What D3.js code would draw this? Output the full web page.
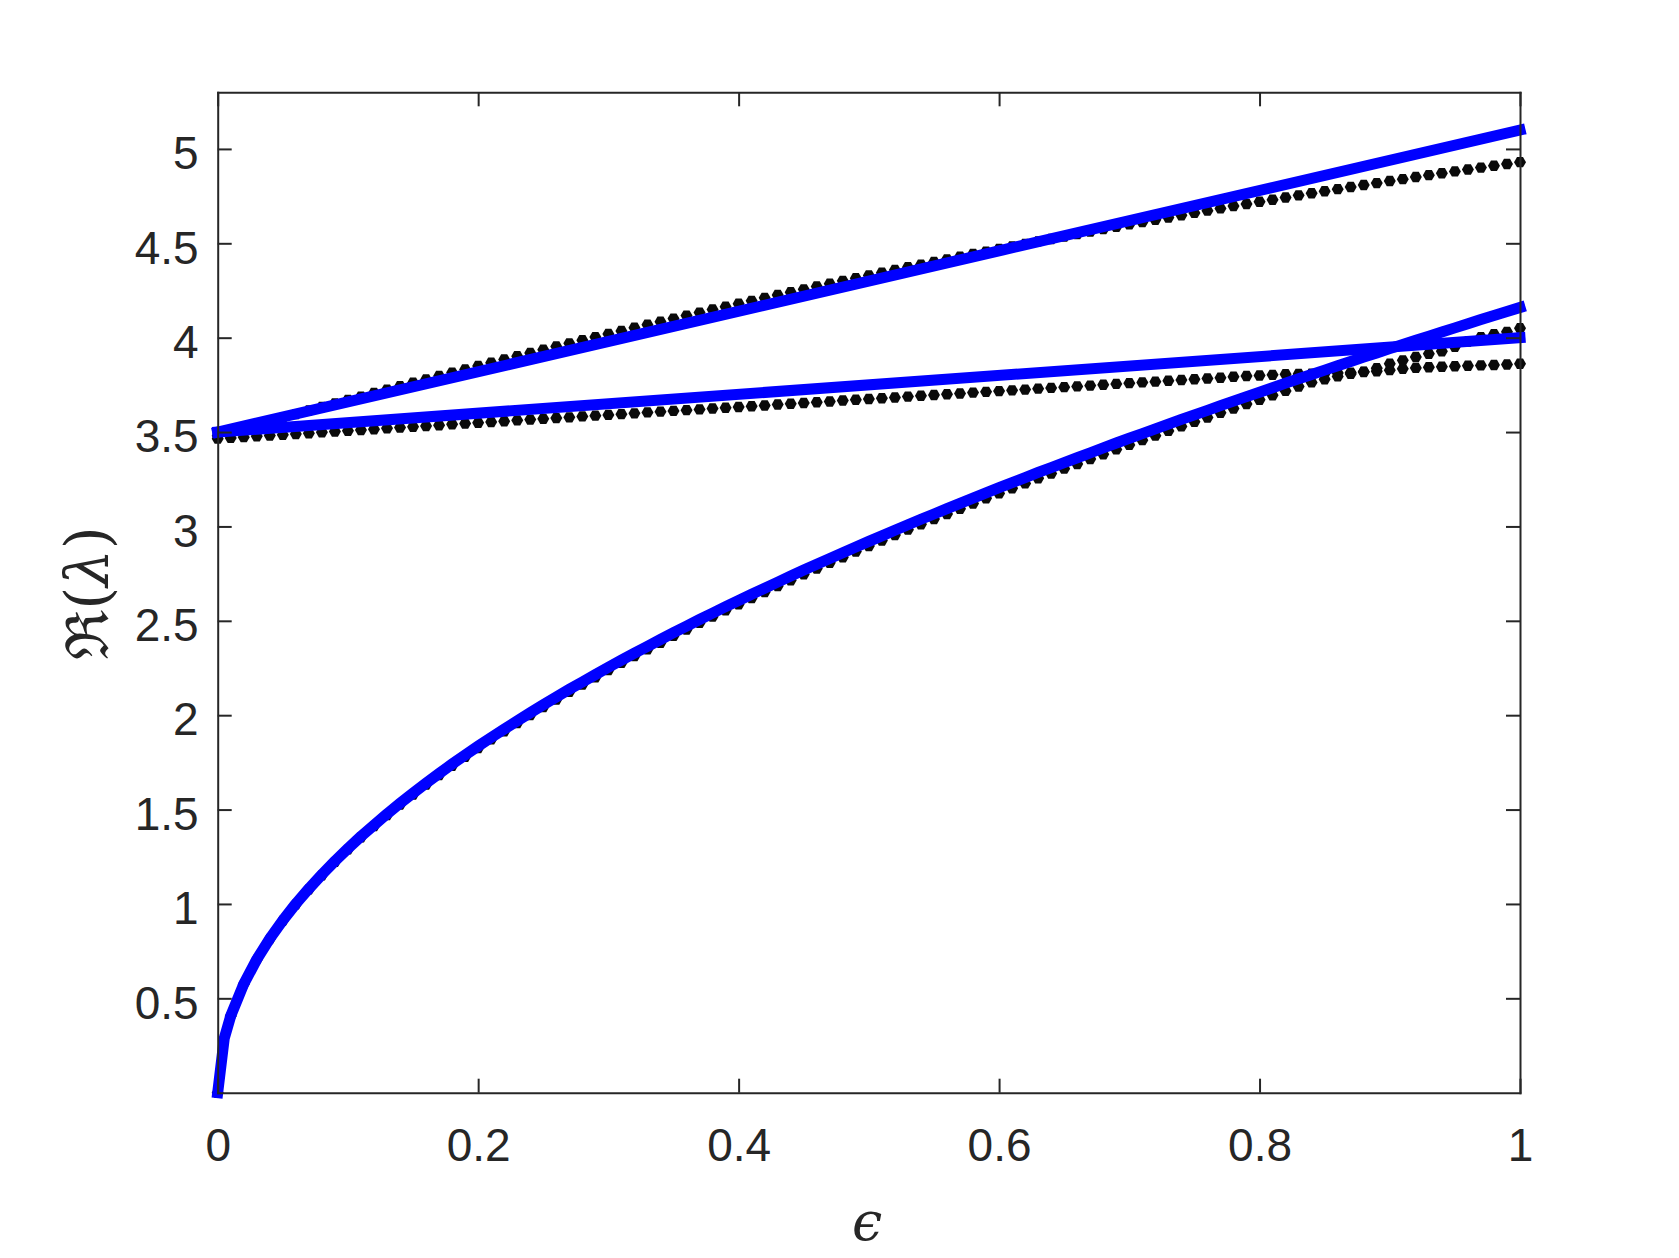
<!DOCTYPE html>
<meta charset="utf-8">
<html><head>
<title></title>
<script src="https://cdn.jsdelivr.net/npm/d3@7"></script>
<style>
body { margin: 0; background: #fff; }
.axis path, .axis line { stroke: #262626; stroke-width: 2px; }
.axis text { fill: #262626; font-family: "Liberation Sans", Arial, sans-serif; font-size: 46px; }
.lbl { fill: #262626; font-family: "DejaVu Serif", "Liberation Serif", serif; }
</style>
</head><body>
<script>

// epsilon grid of the computed eigenvalues (black dots)
var eps = [0,0.01,0.02,0.03,0.04,0.05,0.06,0.07,0.08,0.09,
  0.1,0.11,0.12,0.13,0.14,0.15,0.16,0.17,0.18,0.19,
  0.2,0.21,0.22,0.23,0.24,0.25,0.26,0.27,0.28,0.29,
  0.3,0.31,0.32,0.33,0.34,0.35,0.36,0.37,0.38,0.39,
  0.4,0.41,0.42,0.43,0.44,0.45,0.46,0.47,0.48,0.49,
  0.5,0.51,0.52,0.53,0.54,0.55,0.56,0.57,0.58,0.59,
  0.6,0.61,0.62,0.63,0.64,0.65,0.66,0.67,0.68,0.69,
  0.7,0.71,0.72,0.73,0.74,0.75,0.76,0.77,0.78,0.79,
  0.8,0.81,0.82,0.83,0.84,0.85,0.86,0.87,0.88,0.89,
  0.9,0.91,0.92,0.93,0.94,0.95,0.96,0.97,0.98,0.99,1];

// top branch of dots
var upperDots = [3.480,3.499,3.519,3.538,3.557,3.576,3.595,3.614,3.633,3.651,
  3.670,3.688,3.707,3.725,3.743,3.761,3.779,3.797,3.815,3.832,
  3.850,3.867,3.885,3.902,3.919,3.936,3.953,3.970,3.987,4.003,
  4.020,4.036,4.053,4.069,4.085,4.101,4.117,4.133,4.149,4.164,
  4.180,4.195,4.211,4.226,4.241,4.256,4.271,4.286,4.301,4.315,
  4.330,4.344,4.359,4.373,4.387,4.401,4.415,4.429,4.443,4.456,
  4.470,4.483,4.497,4.510,4.523,4.536,4.549,4.562,4.575,4.587,
  4.600,4.612,4.625,4.637,4.649,4.661,4.673,4.685,4.697,4.708,
  4.720,4.731,4.743,4.754,4.765,4.776,4.787,4.798,4.809,4.819,
  4.830,4.840,4.851,4.861,4.871,4.881,4.891,4.901,4.911,4.920,4.930];

// middle branch of dots
var middleDots = [3.465,3.469,3.473,3.478,3.482,3.486,3.490,3.494,3.499,3.503,
  3.507,3.511,3.515,3.520,3.524,3.528,3.532,3.536,3.541,3.545,
  3.549,3.553,3.557,3.562,3.566,3.570,3.574,3.578,3.583,3.587,
  3.591,3.595,3.599,3.604,3.608,3.612,3.616,3.620,3.625,3.629,
  3.633,3.637,3.641,3.646,3.650,3.654,3.658,3.662,3.667,3.671,
  3.675,3.679,3.683,3.688,3.692,3.696,3.700,3.704,3.709,3.713,
  3.717,3.721,3.725,3.730,3.734,3.738,3.742,3.746,3.751,3.755,
  3.759,3.763,3.767,3.772,3.776,3.780,3.784,3.788,3.793,3.797,
  3.800,3.803,3.806,3.808,3.809,3.810,3.813,3.815,3.818,3.822,
  3.828,3.835,3.840,3.843,3.846,3.849,3.851,3.853,3.855,3.858,3.862];

// lowest branch of dots (starts at zero)
var lowerDots = [0,0.406,0.575,0.705,0.814,0.911,0.998,1.078,1.152,1.223,
  1.289,1.353,1.412,1.471,1.526,1.580,1.632,1.683,1.732,1.780,
  1.826,1.872,1.915,1.959,2.001,2.043,2.083,2.124,2.162,2.201,
  2.239,2.277,2.313,2.349,2.384,2.420,2.454,2.489,2.522,2.556,
  2.588,2.621,2.652,2.684,2.715,2.747,2.777,2.807,2.837,2.867,
  2.896,2.925,2.954,2.983,3.011,3.039,3.066,3.094,3.121,3.149,
  3.175,3.202,3.228,3.255,3.280,3.306,3.331,3.357,3.382,3.408,
  3.432,3.457,3.481,3.506,3.530,3.554,3.577,3.602,3.625,3.649,
  3.671,3.695,3.718,3.741,3.763,3.780,3.795,3.808,3.820,3.838,
  3.862,3.880,3.898,3.915,3.928,3.952,3.980,4.003,4.018,4.031,4.050];

// blue curve (approximation of the lowest branch), extra sample at 0.005
var blueEps = [0,0.005,0.01,0.02,0.03,0.04,0.05,0.06,0.07,0.08,0.09,
  0.1,0.11,0.12,0.13,0.14,0.15,0.16,0.17,0.18,0.19,
  0.2,0.21,0.22,0.23,0.24,0.25,0.26,0.27,0.28,0.29,
  0.3,0.31,0.32,0.33,0.34,0.35,0.36,0.37,0.38,0.39,
  0.4,0.41,0.42,0.43,0.44,0.45,0.46,0.47,0.48,0.49,
  0.5,0.51,0.52,0.53,0.54,0.55,0.56,0.57,0.58,0.59,
  0.6,0.61,0.62,0.63,0.64,0.65,0.66,0.67,0.68,0.69,
  0.7,0.71,0.72,0.73,0.74,0.75,0.76,0.77,0.78,0.79,
  0.8,0.81,0.82,0.83,0.84,0.85,0.86,0.87,0.88,0.89,
  0.9,0.91,0.92,0.93,0.94,0.95,0.96,0.97,0.98,0.99,1];
var blueCurve = [0,0.287,0.407,0.576,0.706,0.816,0.913,1.001,1.081,1.156,1.227,
  1.294,1.358,1.418,1.477,1.533,1.587,1.640,1.691,1.741,1.789,
  1.836,1.882,1.926,1.970,2.013,2.055,2.096,2.137,2.176,2.215,
  2.254,2.292,2.329,2.365,2.401,2.437,2.472,2.507,2.541,2.575,
  2.608,2.641,2.673,2.705,2.737,2.769,2.800,2.830,2.861,2.891,
  2.921,2.950,2.980,3.009,3.038,3.066,3.094,3.122,3.150,3.178,
  3.205,3.232,3.259,3.286,3.312,3.338,3.364,3.390,3.416,3.442,
  3.467,3.492,3.517,3.542,3.567,3.591,3.615,3.640,3.664,3.688,
  3.711,3.735,3.759,3.782,3.805,3.828,3.851,3.874,3.897,3.919,
  3.942,3.964,3.986,4.008,4.030,4.052,4.074,4.096,4.117,4.139,4.160];

// the two straight blue lines
var lineEps = [0, 1];
var blueSteep = [3.5, 5.1];
var blueFlat = [3.5, 4.0];

var xTicks = [0, 0.2, 0.4, 0.6, 0.8, 1];
var yTicks = [0.5, 1, 1.5, 2, 2.5, 3, 3.5, 4, 4.5, 5];

var width = 1679,
    height = 1258;
var margin = {left: 217.7, top: 92.3, right: 159, bottom: 165.3};
var w = width - margin.left - margin.right,
    h = height - margin.top - margin.bottom;

var svg = d3.select("body").append("svg")
    .attr("width", width)
    .attr("height", height);

var g = svg.append("g")
    .attr("transform", "translate(" + margin.left + "," + margin.top + ")");

var x = d3.scaleLinear().domain([0, 1]).range([0, w]);
var y = d3.scaleLinear().domain([0, 5.3]).range([h, 0]);

// hexagon marker like matlab's '.'
var hexagon = {
  draw: function(context, size) {
    var r = Math.sqrt(size / (3 * Math.sqrt(3) / 2));
    for (var i = 0; i < 6; i++) {
      var a = i * Math.PI / 3;
      if (i == 0) context.moveTo(r * Math.cos(a), r * Math.sin(a));
      else context.lineTo(r * Math.cos(a), r * Math.sin(a));
    }
    context.closePath();
  }
};
var sym = d3.symbol().type(hexagon).size(3 * Math.sqrt(3) / 2 * 6 * 6);

// dots
[upperDots, middleDots, lowerDots].forEach(function(series) {
  g.append("g").selectAll("path")
      .data(series)
      .enter().append("path")
      .attr("d", sym)
      .attr("fill", "#0a0a0a")
      .attr("transform", function(d, i) {
        return "translate(" + x(eps[i]) + "," + y(d) + ")";
      });
});

// blue lines
var line = d3.line()
    .x(function(d) { return x(d[0]); })
    .y(function(d) { return y(d[1]); });

var blueSets = [
  blueEps.map(function(e, i) { return [e, blueCurve[i]]; }),
  lineEps.map(function(e, i) { return [e, blueFlat[i]]; }),
  lineEps.map(function(e, i) { return [e, blueSteep[i]]; })
];

g.selectAll(".blue")
    .data(blueSets)
    .enter().append("path")
    .attr("class", "blue")
    .attr("d", line)
    .attr("fill", "none")
    .attr("stroke", "#0000ff")
    .attr("stroke-width", 11)
    .attr("stroke-linecap", "square")
    .attr("stroke-linejoin", "round");

// axes (box with inward ticks)
g.append("g")
    .attr("class", "axis")
    .attr("transform", "translate(0," + h + ")")
    .call(d3.axisBottom(x).tickValues(xTicks).tickFormat(d3.format("")).tickSize(-14).tickSizeOuter(0).tickPadding(36));

g.append("g")
    .attr("class", "axis")
    .call(d3.axisTop(x).tickValues(xTicks).tickFormat("").tickSize(-14).tickSizeOuter(0));

g.append("g")
    .attr("class", "axis")
    .call(d3.axisLeft(y).tickValues(yTicks).tickFormat(d3.format("")).tickSize(-14).tickSizeOuter(0).tickPadding(19))
    .selectAll("text").attr("dy", "0.43em");

g.append("g")
    .attr("class", "axis")
    .attr("transform", "translate(" + w + ",0)")
    .call(d3.axisRight(y).tickValues(yTicks).tickFormat("").tickSize(-14).tickSizeOuter(0));

g.selectAll(".axis .domain").attr("stroke-linecap", "square");

// axis labels
svg.append("text")
    .attr("class", "lbl")
    .attr("x", 867)
    .attr("y", 1240)
    .attr("text-anchor", "middle")
    .attr("font-size", "54px")
    .attr("font-style", "italic")
    .text("\u03f5");

var yl = svg.append("text")
    .attr("class", "lbl")
    .attr("transform", "translate(108,593) rotate(-90)")
    .attr("text-anchor", "middle")
    .attr("font-size", "59px");
yl.append("tspan").text("\u211c(");
yl.append("tspan").attr("font-style", "italic").text("\u03bb");
yl.append("tspan").text(")");

</script>
</body>
</html>
